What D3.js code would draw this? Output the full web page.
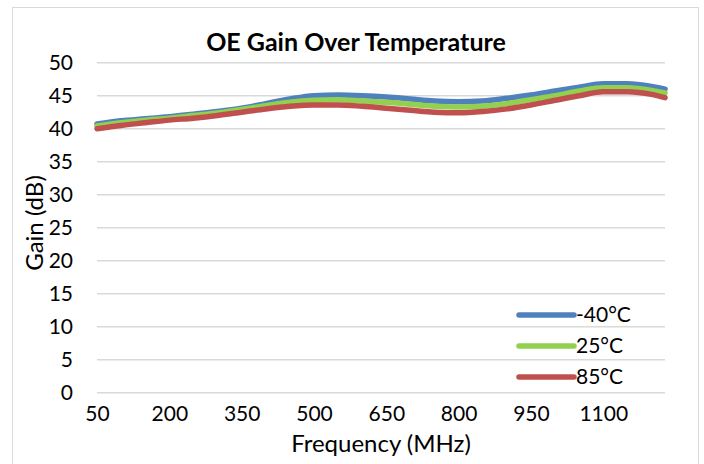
<!DOCTYPE html>
<html><head><meta charset="utf-8">
<script src="https://cdn.jsdelivr.net/npm/d3@7"></script>
<style>html,body{margin:0;padding:0;background:#fff;}svg{display:block;}</style>
</head><body>
<svg id="chart" width="704" height="464"></svg>
<script>
const freqs = [50,100,150,200,250,300,350,400,450,500,550,600,650,700,750,800,850,900,950,1000,1050,1100,1150,1200,1228];
const gainM40 = [40.7,41.2,41.5,41.8,42.2,42.6,43.1,43.8,44.5,45.0,45.1,45.0,44.8,44.5,44.2,44.1,44.2,44.6,45.1,45.7,46.3,46.8,46.8,46.4,46.0];
const gain25  = [40.4,40.9,41.3,41.6,42.0,42.4,42.9,43.5,44.0,44.3,44.4,44.2,44.0,43.7,43.4,43.3,43.4,43.8,44.4,45.0,45.7,46.2,46.2,45.8,45.4];
const gain85  = [40.0,40.5,40.9,41.3,41.6,42.0,42.5,43.0,43.4,43.6,43.6,43.4,43.1,42.8,42.5,42.4,42.6,43.0,43.6,44.3,45.0,45.6,45.6,45.2,44.7];
const seriesNames = ["-40°C","25°C","85°C"];
const seriesColors = ["#4F81BD","#92D050","#C0504D"];
const xTicks = [50,200,350,500,650,800,950,1100];
const yTicks = [0,5,10,15,20,25,30,35,40,45,50];
const titleText = "OE Gain Over Temperature";
const xLabel = "Frequency (MHz)";
const yLabel = "Gain (dB)";

const svg = d3.select("#chart");
const font = "Lato, 'Open Sans', sans-serif";
const m = {left:97, right:665, top:62.7, bottom:392.7};

// outer border
svg.append("rect").attr("x",12.5).attr("y",7.5).attr("width",686).attr("height",470)
  .attr("fill","none").attr("stroke","#d9d9d9").attr("stroke-width",1);

const x = d3.scaleLinear().domain([50,1228]).range([m.left,m.right]);
const y = d3.scaleLinear().domain([0,50]).range([m.bottom,m.top]);

// gridlines
svg.append("g").selectAll("line").data(yTicks).join("line")
  .attr("x1",m.left).attr("x2",m.right)
  .attr("y1",d=>y(d)).attr("y2",d=>y(d))
  .attr("stroke","#d9d9d9").attr("stroke-width",1.5);

// y axis labels
const yAxis = d3.axisLeft(y).tickValues(yTicks).tickSize(0).tickPadding(24);
const gy = svg.append("g").attr("transform",`translate(${m.left},0)`).call(yAxis);
gy.select(".domain").remove();
gy.selectAll("text").attr("font-family",font).attr("font-size",21).attr("fill","#000");

// x axis labels
const xAxis = d3.axisBottom(x).tickValues(xTicks).tickSize(0).tickPadding(13).tickFormat(d3.format("d"));
const gx = svg.append("g").attr("transform",`translate(0,${m.bottom})`).call(xAxis);
gx.select(".domain").remove();
gx.selectAll("text").attr("font-family",font).attr("font-size",21).attr("fill","#000");

// lines
const data = [gainM40, gain25, gain85];
const line = d3.line().x((d,i)=>x(freqs[i])).y(d=>y(d)).curve(d3.curveMonotoneX);
svg.append("g").selectAll("path").data(data).join("path")
  .attr("d",d=>line(d)).attr("fill","none")
  .attr("stroke",(d,i)=>seriesColors[i]).attr("stroke-width",5.5)
  .attr("stroke-linecap","round").attr("stroke-linejoin","round");

// title
svg.append("text").attr("x",356).attr("y",51).attr("text-anchor","middle")
  .attr("font-family",font).attr("font-weight","bold").attr("font-size",25).text(titleText);

// axis titles
svg.append("text").attr("x",381).attr("y",452).attr("text-anchor","middle")
  .attr("font-family",font).attr("font-size",24).text(xLabel);
svg.append("text").attr("transform","translate(43,223) rotate(-90)").attr("text-anchor","middle")
  .attr("font-family",font).attr("font-size",24).text(yLabel);

// legend
const legY = [315,346,377];
const lg = svg.append("g");
seriesNames.forEach((n,i)=>{
  lg.append("line").attr("x1",519).attr("x2",574).attr("y1",legY[i]).attr("y2",legY[i])
    .attr("stroke",seriesColors[i]).attr("stroke-width",5.5).attr("stroke-linecap","round");
  lg.append("text").attr("x",576).attr("y",legY[i]).attr("dy","0.35em")
    .attr("font-family",font).attr("font-size",21).text(n);
});
</script>
</body></html>
